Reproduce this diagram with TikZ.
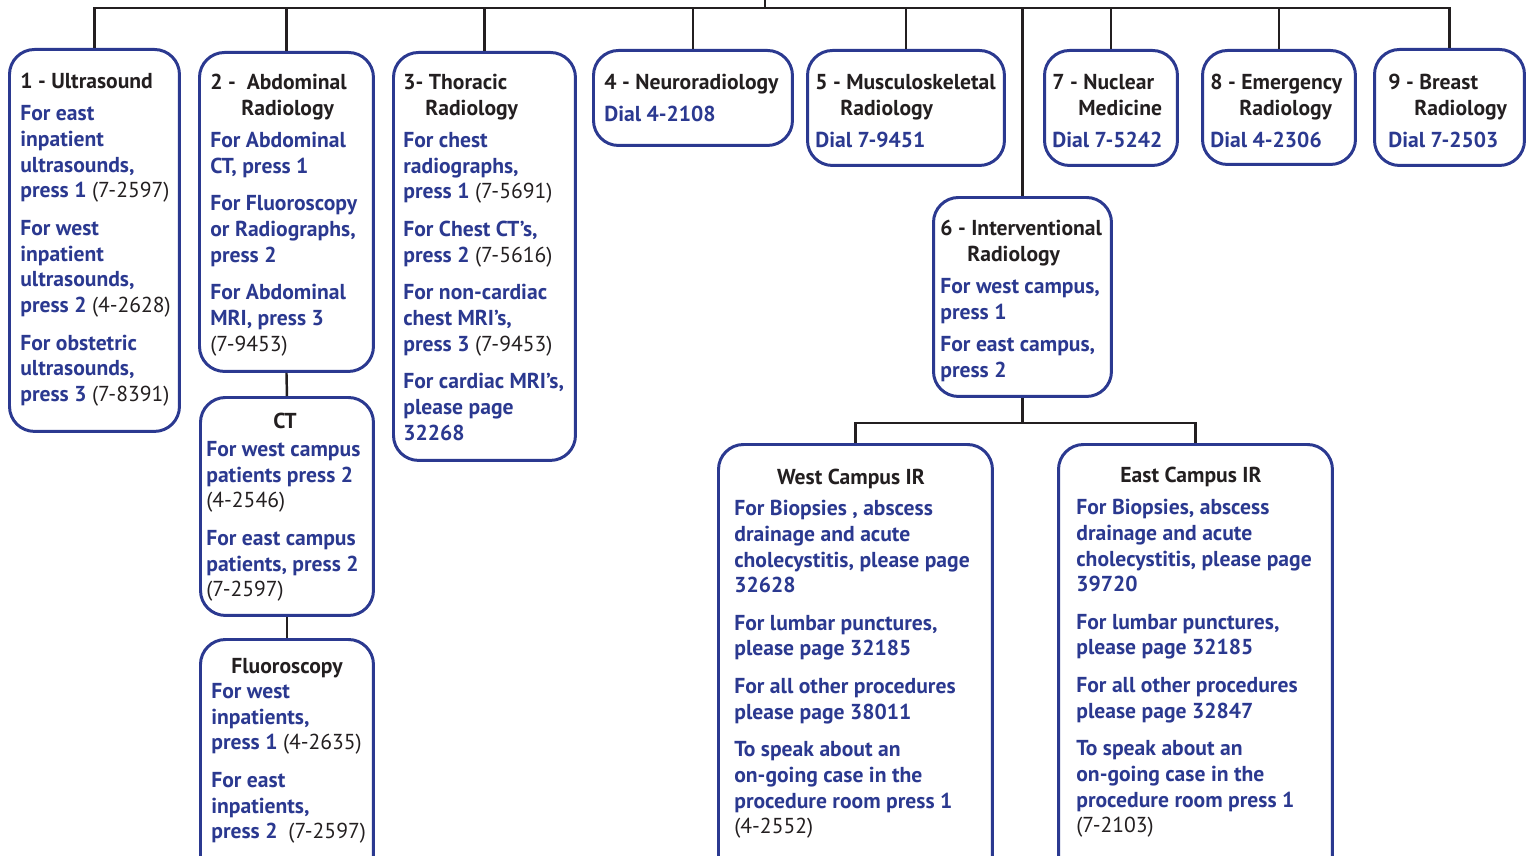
\documentclass[tikz,border=0pt]{standalone}
\usepackage{fontspec}
\setmainfont{PT Sans}
\usepackage{xcolor}
\usetikzlibrary{positioning}

\definecolor{irblue}{HTML}{2B3990}
\definecolor{inkgray}{HTML}{231F20}
\newcommand{\ph}[1]{{\normalfont\color{inkgray}(#1)}}
\newcommand{\hd}[1]{{\color{inkgray}#1}}

\begin{document}
\begin{tikzpicture}[
    x=0.02cm, y=-0.02cm,
    box/.style={draw=irblue, line width=1.7pt, rounded corners=0.5cm, anchor=north west, inner sep=0pt},
    txt/.style={anchor=north west, inner sep=0pt, align=left, font=\fontsize{12.3}{14.6}\selectfont\bfseries, text=irblue},
    head/.style={anchor=north, inner sep=0pt, align=center, font=\fontsize{12.3}{14.6}\selectfont\bfseries, text=inkgray},
    link/.style={draw=inkgray, line width=1.4pt}
]
\useasboundingbox (0,0) rectangle (1530,855);

% Top row of sections
\node[box, minimum width=3.4cm, minimum height=7.64cm] (us) at (8,48) {};
\node[box, minimum width=3.48cm, minimum height=6.38cm] (abd) at (198,51) {};
\node[box, minimum width=3.64cm, minimum height=8.16cm] (thor) at (392,51) {};
\node[box, minimum width=3.98cm, minimum height=1.9cm] (neuro) at (592,49) {};
\node[box, minimum width=3.94cm, minimum height=2.3cm] (msk) at (806,49) {};
\node[box, minimum width=2.66cm, minimum height=2.3cm] (nuc) at (1043,49) {};
\node[box, minimum width=3.06cm, minimum height=2.28cm] (emerg) at (1201,49) {};
\node[box, minimum width=3.0cm, minimum height=2.32cm] (breast) at (1373,48) {};

% Abdominal sub-sections
\node[box, minimum width=3.46cm, minimum height=4.36cm] (ct) at (199,396) {};
\node[box, minimum width=3.46cm, minimum height=5.0cm] (fluoro) at (199,638) {};

% Interventional Radiology and its campuses
\node[box, minimum width=3.56cm, minimum height=3.98cm] (ir) at (932,196) {};
\node[box, minimum width=5.48cm, minimum height=9.0cm] (west) at (717,443) {};
\node[box, minimum width=5.48cm, minimum height=9.0cm] (east) at (1057,443) {};

% Texts
\node[txt] (us-txt) at (20,73) {\hd{1 - Ultrasound}\\[0.13cm]
  For east\\inpatient\\ultrasounds,\\press 1 \ph{7-2597}\\[0.24cm]
  For west\\inpatient\\ultrasounds,\\press 2 \ph{4-2628}\\[0.24cm]
  For obstetric\\ultrasounds,\\press 3 \ph{7-8391}};
\node[txt] (abd-txt) at (210,74) {\hd{2 - \ Abdominal}\\\hd{\hspace*{0.62cm}Radiology}\\[0.13cm]
  For Abdominal\\CT, press 1\\[0.24cm]
  For Fluoroscopy\\or Radiographs,\\press 2\\[0.24cm]
  For Abdominal\\MRI, press 3\\\ph{7-9453}};
\node[head] (ct-head) at (285,413) {CT};
\node[txt] (ct-txt) at (206,441) {For west campus\\patients press 2\\\ph{4-2546}\\[0.24cm]
  For east campus\\patients, press 2\\\ph{7-2597}};
\node[head] (fluoro-head) at (287,658) {Fluoroscopy};
\node[txt] (fluoro-txt) at (211,683) {For west\\inpatients,\\press 1 \ph{4-2635}\\[0.24cm]
  For east\\inpatients,\\press 2\ \ \ph{7-2597}};
\node[txt] (thor-txt) at (403,74) {\hd{3- Thoracic}\\\hd{\hspace*{0.44cm}Radiology}\\[0.13cm]
  For chest\\radiographs,\\press 1 \ph{7-5691}\\[0.24cm]
  For Chest CT’s,\\press 2 \ph{7-5616}\\[0.24cm]
  For non-cardiac\\chest MRI’s,\\press 3 \ph{7-9453}\\[0.24cm]
  For cardiac MRI’s,\\please page\\32268};
\node[txt] (neuro-txt) at (604,74) {\hd{4 - Neuroradiology}\\[0.13cm] Dial 4-2108};
\node[txt] (msk-txt) at (815,74) {\hd{5 - Musculoskeletal}\\\hd{\hspace*{0.5cm}Radiology}\\[0.13cm] Dial 7-9451};
\node[txt] (nuc-txt) at (1052,74) {\hd{7 - Nuclear}\\\hd{\hspace*{0.52cm}Medicine}\\[0.13cm] Dial 7-5242};
\node[txt] (emerg-txt) at (1210,74) {\hd{8 - Emergency}\\\hd{\hspace*{0.58cm}Radiology}\\[0.13cm] Dial 4-2306};
\node[txt] (breast-txt) at (1388,74) {\hd{9 - Breast}\\\hd{\hspace*{0.52cm}Radiology}\\[0.13cm] Dial 7-2503};
\node[txt] (ir-txt) at (940,220) {\hd{6 - Interventional}\\\hd{\hspace*{0.54cm}Radiology}\\[0.13cm]
  For west campus,\\press 1\\[0.13cm]
  For east campus,\\press 2};
\node[head] (west-head) at (851,469) {West Campus IR};
\node[txt] (west-txt) at (734,500) {For Biopsies , abscess\\drainage and acute\\cholecystitis, please page\\32628\\[0.24cm]
  For lumbar punctures,\\please page 32185\\[0.24cm]
  For all other procedures\\please page 38011\\[0.24cm]
  To speak about an\\on-going case in the\\procedure room press 1\\\ph{4-2552}};
\node[head] (east-head) at (1191,467) {East Campus IR};
\node[txt] (east-txt) at (1076,499) {For Biopsies, abscess\\drainage and acute\\cholecystitis, please page\\39720\\[0.24cm]
  For lumbar punctures,\\please page 32185\\[0.24cm]
  For all other procedures\\please page 32847\\[0.24cm]
  To speak about an\\on-going case in the\\procedure room press 1\\\ph{7-2103}};

% Connectors
\coordinate (root) at (765,0);
\coordinate (rail) at (765,8);
\draw[link] (root) -- (rail);
\foreach \b in {us,abd,thor,neuro,msk,ir,nuc,emerg,breast}
  \draw[link] (rail) -| (\b.north);
\draw[link] (abd.south) -- (ct.north);
\draw[link] (ct.south) -- (fluoro.north);
\draw[link] (ir.south) -- ([yshift=-0.5cm]ir.south) coordinate (split);
\draw[link] (split) -| (west.north);
\draw[link] (split) -| (east.north);

\end{tikzpicture}
\end{document}
